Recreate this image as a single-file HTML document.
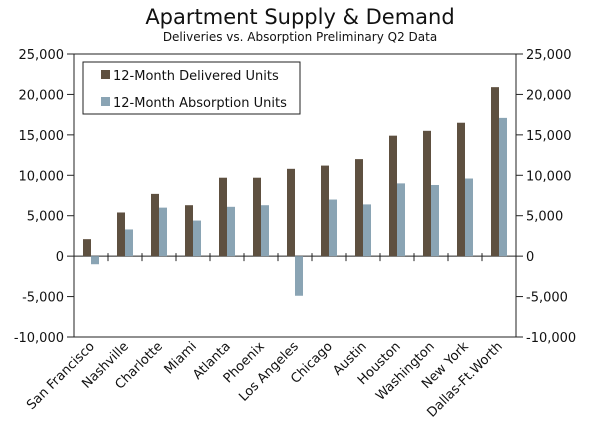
<!DOCTYPE html>
<html><head><meta charset="utf-8"><style>
body{margin:0;background:#fff}
svg{display:block;font-family:"DejaVu Sans","Liberation Sans",sans-serif}
</style></head><body>
<svg id="c" width="600" height="430">
<text x="300" y="24" text-anchor="middle" font-size="21" fill="#111">Apartment Supply &amp; Demand</text>
<text x="300" y="41" text-anchor="middle" font-size="12" fill="#111">Deliveries vs. Absorption Preliminary Q2 Data</text>
</svg>
<script>
const categories=["San Francisco","Nashville","Charlotte","Miami","Atlanta","Phoenix","Los Angeles","Chicago","Austin","Houston","Washington","New York","Dallas-Ft.Worth"];
const delivered=[2100,5400,7700,6300,9700,9700,10800,11200,12000,14900,15500,16500,20900];
const absorption=[-1000,3300,6000,4400,6100,6300,-4900,7000,6400,9000,8800,9600,17100];
const ticks=[25000,20000,15000,10000,5000,0,-5000,-10000];
const tickLabels=["25,000","20,000","15,000","10,000","5,000","0","-5,000","-10,000"];
const svg=document.getElementById('c');const NS='http://www.w3.org/2000/svg';
const L=74,R=516,T=54,B=337,ymin=-10000,ymax=25000;
const y=v=>B-(v-ymin)/(ymax-ymin)*(B-T);
const cw=(R-L)/categories.length;
function mk(t,a,p){const e=document.createElementNS(NS,t);for(const k in a)e.setAttribute(k,a[k]);(p||svg).appendChild(e);return e;}
let e;
e=mk('rect',{x:L,y:T,width:R-L,height:B-T,fill:'none',stroke:'#222','stroke-width':1});


ticks.forEach((t,i)=>{
 e=mk('line',{x1:L-7,x2:L,y1:y(t),y2:y(t),stroke:'#222'});
 
 
 e=mk('line',{x1:R,x2:R+7,y1:y(t),y2:y(t),stroke:'#222'});
 
 
 e=mk('text',{x:L-10,y:y(t)+5,'text-anchor':'end','font-size':13,fill:'#111'});e.textContent=tickLabels[i];
 
 
 e=mk('text',{x:R+10,y:y(t)+5,'text-anchor':'start','font-size':13,fill:'#111'});e.textContent=tickLabels[i];
 
 
});
e=mk('line',{x1:L,x2:R,y1:y(0),y2:y(0),stroke:'#222'});


categories.forEach((c,i)=>{
 const x0=L+i*cw;
 if(i>0){e=mk('line',{x1:x0,x2:x0,y1:y(0)-3,y2:y(0)+5,stroke:'#222'});
 
 }
 const d=delivered[i],a=absorption[i];
 e=mk('rect',{x:x0+9,y:Math.min(y(d),y(0)),width:8,height:Math.abs(y(d)-y(0)),fill:'#5e5040'});
 
 
 e=mk('rect',{x:x0+17,y:Math.min(y(a),y(0)),width:8,height:Math.abs(y(a)-y(0)),fill:'#8aa4b4'});
 
 
 const cx=x0+cw/2+4;
 e=mk('text',{x:cx,y:B+10,'text-anchor':'end','font-size':13,fill:'#111',transform:`rotate(-45 ${cx} ${B+10})`});e.textContent=c;
 
 
});
const g=mk('g',{});


mk('rect',{x:83,y:62,width:217,height:52,fill:'#fff',stroke:'#222'},g);
mk('rect',{x:101,y:70,width:9,height:9,fill:'#5e5040'},g);
e=mk('text',{x:113,y:80,'font-size':13,fill:'#111'},g);e.textContent='12-Month Delivered Units';
mk('rect',{x:101,y:97,width:9,height:9,fill:'#8aa4b4'},g);
e=mk('text',{x:113,y:107,'font-size':13,fill:'#111'},g);e.textContent='12-Month Absorption Units';
</script>
</body></html>
